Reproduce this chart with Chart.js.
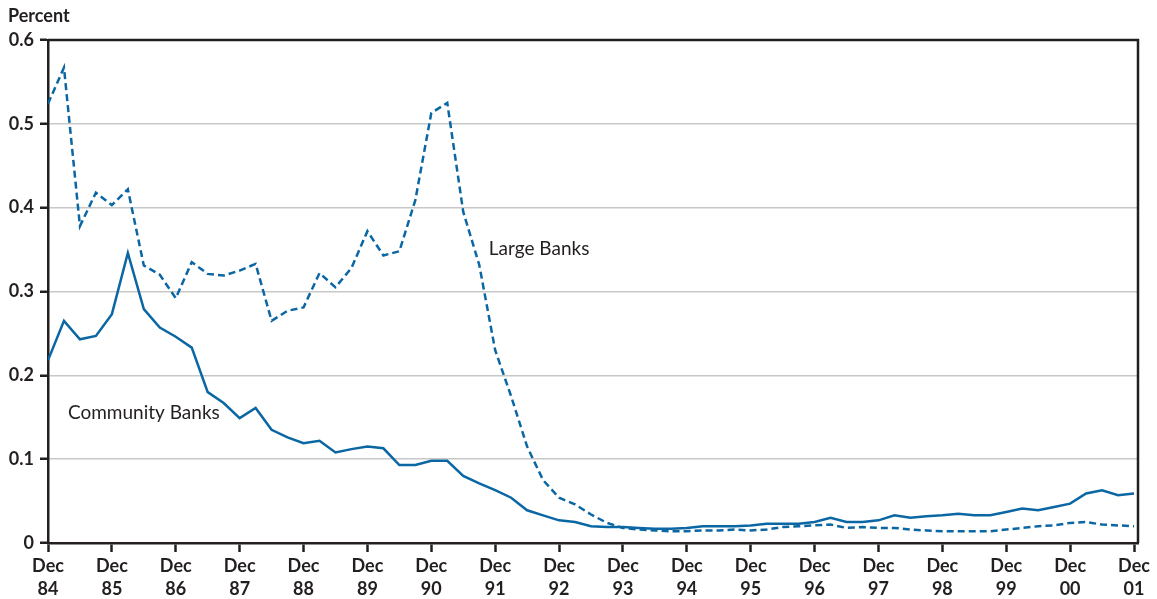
<!DOCTYPE html>
<html>
<head>
<meta charset="utf-8">
<script src="https://cdn.jsdelivr.net/npm/chart.js@4"></script>
<style>
  html, body { margin: 0; padding: 0; background: #fff; }
  #wrap { width: 1157px; height: 599px; }
</style>
</head>
<body>
<div id="wrap"><canvas id="grafico"></canvas></div>
<script>
// quarterly, Dec 84 .. Dec 01 (index 0 = Dec 84)
const community = [
  0.218, 0.265, 0.243, 0.247, 0.273, 0.346, 0.279, 0.257, 0.246, 0.233,
  0.180, 0.167, 0.149, 0.161, 0.135, 0.126, 0.119, 0.122, 0.108, 0.112,
  0.115, 0.113, 0.093, 0.093, 0.098, 0.098, 0.080, 0.071, 0.063, 0.054,
  0.039, 0.033, 0.027, 0.025, 0.020, 0.019, 0.019, 0.018, 0.017, 0.017,
  0.018, 0.020, 0.020, 0.020, 0.021, 0.023, 0.023, 0.023, 0.025, 0.030,
  0.025, 0.025, 0.027, 0.033, 0.030, 0.032, 0.033, 0.035, 0.033, 0.033,
  0.037, 0.041, 0.039, 0.043, 0.047, 0.059, 0.063, 0.057, 0.059,
];

const large = [
  0.524, 0.567, 0.378, 0.418, 0.403, 0.422, 0.331, 0.320, 0.292, 0.335,
  0.321, 0.319, 0.325, 0.333, 0.265, 0.277, 0.281, 0.322, 0.305, 0.328,
  0.372, 0.343, 0.348, 0.409, 0.513, 0.525, 0.395, 0.332, 0.230, 0.175,
  0.115, 0.075, 0.054, 0.046, 0.034, 0.024, 0.018, 0.016, 0.015, 0.014,
  0.014, 0.015, 0.015, 0.016, 0.015, 0.016, 0.019, 0.020, 0.021, 0.022,
  0.018, 0.019, 0.018, 0.018, 0.016, 0.015, 0.014, 0.014, 0.014, 0.014,
  0.016, 0.018, 0.020, 0.021, 0.024, 0.025, 0.022, 0.021, 0.020,
];

const yearLabels = [
  "84", "85", "86", "87", "88", "89", "90", "91", "92",
  "93", "94", "95", "96", "97", "98", "99", "00", "01",
];

const yTicks = [0, 0.1, 0.2, 0.3, 0.4, 0.5, 0.6];

const azul = "#0b67a3";
const preto = "#231f20";
const fonte = "Lato, 'Open Sans', sans-serif";

// ========================
// PLUGIN: frame + text labels
// ========================

const extras = {
  id: "extras",
  afterDraw(chart) {
    const { ctx, chartArea } = chart;
    const x = chart.scales.x;
    const y = chart.scales.y;

    ctx.save();
    ctx.strokeStyle = preto;
    ctx.lineWidth = 2.5;
    ctx.beginPath();
    ctx.moveTo(chartArea.left, chartArea.top);
    ctx.lineTo(chartArea.right, chartArea.top);
    ctx.lineTo(chartArea.right, chartArea.bottom);
    ctx.stroke();

    ctx.fillStyle = preto;
    ctx.font = "19px " + fonte;
    ctx.textBaseline = "middle";
    ctx.textAlign = "left";
    ctx.fillText("Large Banks", x.getPixelForValue(27.6), y.getPixelForValue(0.351));
    ctx.fillText("Community Banks", x.getPixelForValue(1.25), y.getPixelForValue(0.155));

    ctx.font = "bold 18px " + fonte;
    ctx.fillText("Percent", 8, 16);
    ctx.restore();
  },
};

// ========================
// CHART
// ========================

new Chart(document.getElementById("grafico"), {
  type: "line",

  data: {
    datasets: [
      {
        label: "Large Banks",
        data: large.map((v, i) => ({ x: i, y: v })),
        borderColor: azul,
        borderWidth: 2.5,
        borderDash: [7, 4],
        pointRadius: 0,
        tension: 0,
      },
      {
        label: "Community Banks",
        data: community.map((v, i) => ({ x: i, y: v })),
        borderColor: azul,
        borderWidth: 2.5,
        pointRadius: 0,
        tension: 0,
      },
    ],
  },

  options: {
    responsive: true,
    maintainAspectRatio: false,
    animation: false,
    layout: { padding: { top: 40, right: 19, left: 0, bottom: 0 } },
    plugins: {
      legend: { display: false },
      tooltip: { enabled: false },
    },
    scales: {
      x: {
        type: "linear",
        min: 0,
        max: 68.25,
        afterBuildTicks(scale) {
          scale.ticks = yearLabels.map((_, i) => ({ value: i * 4 }));
        },
        afterFit(scale) {
          scale.height = 56;
        },
        border: { color: preto, width: 2.5 },
        grid: {
          drawOnChartArea: false,
          drawTicks: true,
          tickLength: 9,
          tickColor: preto,
          tickWidth: 2.5,
        },
        ticks: {
          autoSkip: false,
          maxRotation: 0,
          padding: 2,
          color: preto,
          font: { family: fonte, size: 18, weight: "bold", lineHeight: 1.3 },
          callback: (v) => ["Dec", yearLabels[Math.round(v / 4)]],
        },
      },
      y: {
        min: 0,
        max: 0.6,
        afterBuildTicks(scale) {
          scale.ticks = yTicks.map((v) => ({ value: v }));
        },
        afterFit(scale) {
          scale.width = 48;
        },
        border: { color: preto, width: 2.5 },
        grid: {
          color: (c) => (c.tick && c.tick.value === 0 ? "rgba(0,0,0,0)" : "#c8c8c8"),
          lineWidth: 1.5,
          drawTicks: true,
          tickLength: 8,
          tickColor: preto,
          tickWidth: 2.5,
        },
        ticks: {
          padding: 6,
          color: preto,
          font: { family: fonte, size: 18, weight: "bold" },
          callback: (v) => (v === 0 ? "0" : v.toFixed(1)),
        },
      },
    },
  },

  plugins: [extras],
});
</script>
</body>
</html>
